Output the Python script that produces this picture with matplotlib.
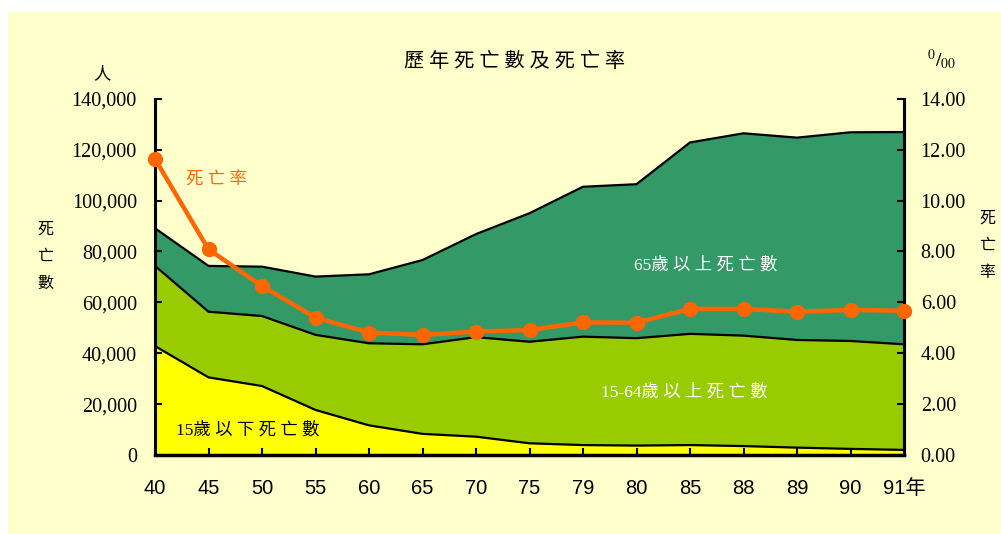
import matplotlib
matplotlib.use("Agg")
import matplotlib.pyplot as plt
from matplotlib.patches import Rectangle
import numpy as np

years = ['40', '45', '50', '55', '60', '65', '70', '75', '79', '80', '85', '88', '89', '90', '91年']
deaths_0_14 = [42800, 30500, 27100, 17700, 11650, 8300, 7200, 4600, 3900, 3700, 3900, 3500, 2900, 2400, 2000]
deaths_15_64 = [31500, 25800, 27500, 29500, 32250, 35200, 39100, 39900, 42600, 42200, 43700, 43400, 42300, 42400, 41500]
deaths_65 = [14800, 18000, 19400, 22900, 27100, 33100, 40500, 50500, 58900, 60500, 75200, 79500, 79500, 82000, 83400]
death_rate = [11.63, 8.08, 6.64, 5.40, 4.81, 4.72, 4.85, 4.91, 5.21, 5.20, 5.74, 5.74, 5.63, 5.70, 5.67]
left_ticks = [0, 20000, 40000, 60000, 80000, 100000, 120000, 140000]
right_ticks = [0, 2, 4, 6, 8, 10, 12, 14]

CJK = ['Liberation Serif', 'Noto Sans CJK TC', 'DejaVu Sans']
SERIF = ['Liberation Serif', 'DejaVu Serif']
SANS = ['Liberation Sans', 'Noto Sans CJK TC', 'DejaVu Sans']

PANEL = '#FFFFCC'
C_YEL = '#FFFF00'
C_YG = '#99CC00'
C_GRN = '#339966'
C_ORG = '#FF6600'

W, H = 1001, 534
fig = plt.figure(figsize=(W / 100, H / 100), dpi=100, facecolor='white')
fig.patches.append(Rectangle((8 / W, 0), 1 - 8 / W, 1 - 12 / H, transform=fig.transFigure,
                             facecolor=PANEL, edgecolor='none', zorder=-10))

ax = fig.add_axes([155 / W, 1 - 455 / H, (904 - 155) / W, (455 - 98.7) / H])
ax.set_facecolor('none')

x = np.arange(len(years))
a = np.array(deaths_0_14)
b = a + np.array(deaths_15_64)
c = b + np.array(deaths_65)

ax.fill_between(x, 0, a, color=C_YEL, linewidth=0, zorder=1)
ax.fill_between(x, a, b, color=C_YG, linewidth=0, zorder=1)
ax.fill_between(x, b, c, color=C_GRN, linewidth=0, zorder=1)
for top in (a, b, c):
    ax.plot(x, top, color='black', lw=1.6, zorder=2, solid_joinstyle='miter')

ax.set_xlim(0, len(years) - 1)
ax.set_ylim(0, 140000)
ax.set_yticks(left_ticks)
ax.set_yticklabels([f'{v:,}' for v in left_ticks], fontfamily=SERIF, fontsize=14.5)
ax.set_xticks(x)
ax.set_xticklabels(years, fontfamily=SANS, fontsize=14.5)
ax.tick_params(axis='y', direction='in', length=5, width=1.5, pad=13)
ax.tick_params(axis='x', direction='in', length=5, width=1.5, pad=17)
ax.spines['top'].set_visible(False)
ax.spines['left'].set_linewidth(2.2)
ax.spines['bottom'].set_linewidth(2.5)
ax.spines['right'].set_linewidth(2.2)
for s in ax.spines.values():
    s.set_zorder(5)

ax2 = ax.twinx()
ax2.set_ylim(0, 14)
ax2.set_yticks(right_ticks)
ax2.set_yticklabels([f'{v:.2f}' for v in right_ticks], fontfamily=SERIF, fontsize=14.5)
ax2.tick_params(axis='y', direction='in', length=5, width=1.5, pad=12)
ax2.spines['top'].set_visible(False)
ax2.spines['right'].set_linewidth(2.2)
ax2.spines['left'].set_visible(False)
ax2.spines['bottom'].set_visible(False)
ax2.plot(x, death_rate, color=C_ORG, lw=3.2, marker='o', markersize=10, zorder=6, clip_on=False)

# in-plot labels
ax.text(1.14, 108000, '死 亡 率', ha='center', va='center', fontfamily=CJK, fontsize=12.5, color=C_ORG, zorder=7)
ax.text(10.3, 74650, '65歲 以 上 死 亡 數', ha='center', va='center', fontfamily=CJK, fontsize=12.5, color='white', zorder=7)
ax.text(9.9, 24750, '15-64歲 以 上 死 亡 數', ha='center', va='center', fontfamily=CJK, fontsize=12.5, color='white', zorder=7)
ax.text(1.74, 9800, '15歲 以 下 死 亡 數', ha='center', va='center', fontfamily=CJK, fontsize=12.5, color='black', zorder=7)

# title and axis labels
fig.text(515 / W, 1 - 62 / H, '歷 年 死 亡 數 及 死 亡 率', ha='center', va='center',
         fontfamily=CJK, fontsize=14.5, color='black')
fig.text(102 / W, 1 - 75 / H, '人', ha='center', va='center', fontfamily=CJK, fontsize=12.5)
fig.text(942 / W, 1 - 60 / H, r'$^{0}/_{00}$', ha='center', va='center', fontsize=14,
         math_fontfamily='stix')
for i, ch in enumerate('死亡數'):
    fig.text(45 / W, 1 - (230 + 27 * i) / H, ch, ha='center', va='center', fontfamily=CJK, fontsize=11.5)
for i, ch in enumerate('死亡率'):
    fig.text(987 / W, 1 - (219 + 27 * i) / H, ch, ha='center', va='center', fontfamily=CJK, fontsize=11.5)

fig.savefig('out.png', dpi=100, facecolor='white')
